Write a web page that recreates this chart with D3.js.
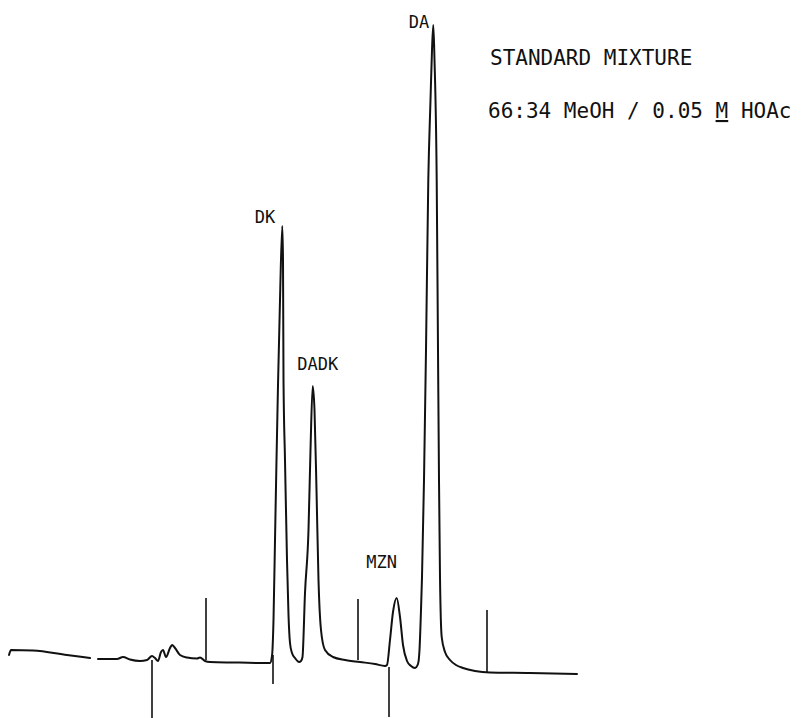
<!DOCTYPE html>
<html>
<head>
<meta charset="utf-8">
<script src="https://cdn.jsdelivr.net/npm/d3@7"></script>
<style>
  html, body { margin: 0; padding: 0; background: #fff; }
  svg { display: block; }
</style>
</head>
<body>
<svg></svg>
<script>
// chromatogram trace (time in chart divisions, detector response)
var traceTime = [
  0.1, 0.3, 2.5, 5.9, 8.2, 8.6,
  9.0, 10.9, 11.5, 12.2, 13.2, 13.9, 14.4, 14.7, 15.0, 15.3, 15.5, 15.8, 16.2, 16.4, 16.7, 17.2, 17.9, 18.9, 19.2, 19.7, 20.2, 22.5, 26.0,
  26.2, 26.4, 26.55, 26.7, 26.85, 27.0, 27.2, 27.43, 27.5, 27.55, 27.7, 27.9, 28.05, 28.2, 28.4, 28.7, 29.1, 29.3,
  29.45, 29.7, 30.05, 30.25, 30.47, 30.65, 30.85, 31.05, 31.3, 31.7, 32.5, 33.7, 35.2, 36.7, 37.7,
  37.9, 38.2, 38.5, 38.87, 39.2, 39.5, 39.9, 40.3, 40.7, 41.0,
  41.15, 41.3, 41.4, 41.6, 41.8, 42.03, 42.25, 42.4, 42.53, 42.65, 42.87, 43.0, 43.1, 43.2, 43.37, 43.7, 44.2, 44.8, 45.5, 46.7, 48.2, 52.2, 56.9
]
var traceSignal = [
  3.8, 4.8, 4.7, 3.8, 3.2, null,
  3.0, 3.0, 3.4, 2.9, 2.6, 2.8, 3.6, 3.2, 2.6, 4.4, 4.8, 3.4, 5.2, 5.8, 5.2, 3.8, 3.3, 3.1, 3.3, 2.6, 2.4, 2.3, 2.2,
  2.2, 3.6, 10.8, 26.8, 42.8, 57.8, 74.8, 89.6, 82.8, 58.8, 42.8, 22.8, 11.8, 6.2, 4.2, 3.2, 2.4, 2.6,
  3.4, 16.2, 28.8, 44.8, 57.6, 52.8, 36.8, 18.8, 8.8, 4.8, 3.4, 2.8, 2.4, 2.0, 1.6,
  1.8, 6.8, 12.4, 15.2, 11.4, 5.8, 2.6, 1.6, 1.2, 2.0,
  4.8, 12.8, 19.4, 38.8, 64.8, 98.8, 114.8, 124.8, 129.8, 122.8, 98.8, 64.8, 38.8, 19.4, 7.4, 4.4, 2.8, 1.8, 1.2, 0.6, 0.3, 0.2, 0
]

// integrator event marks: time, top and bottom of the stroke
var markTime = [14.4, 19.8, 26.5, 35.0, 38.1, 47.9]
var markTop = [2.8, 15.2, 3.8, 15.0, 1.4, 12.8]
var markBottom = [-8.8, 2.8, -2.0, 2.8, -8.6, 0.2]

// peak labels
var peakNames = ["DK", "DADK", "MZN", "DA"]
var peakTime = [27.43, 30.47, 38.87, 42.53]
var peakHeight = [89.6, 57.6, 15.2, 129.8]

var titleLines = ["STANDARD MIXTURE", "66:34 MeOH / 0.05 ", "M", " HOAc"]

var svgWidth = 803,
    svgHeight = 718

var svg = d3.select("svg")
    .attr("width", svgWidth)
    .attr("height", svgHeight)

var x = d3.scaleLinear().domain([0, 57]).range([8, 578])
var y = d3.scaleLinear().domain([0, 130]).range([674, 24])

var trace = traceTime.map((t, i) => ({ t: t, s: traceSignal[i] }))

var line = d3.line()
    .defined((d) => d.s !== null)
    .x((d) => x(d.t))
    .y((d) => y(d.s))
    .curve(d3.curveMonotoneX)

svg.append("path")
    .datum(trace)
    .attr("d", line)
    .attr("fill", "none")
    .attr("stroke", "#111")
    .attr("stroke-width", 2)
    .attr("stroke-linejoin", "round")
    .attr("stroke-linecap", "round")

svg.selectAll("line.mark")
    .data(markTime)
    .enter()
    .append("line")
    .attr("class", "mark")
    .attr("x1", (d) => x(d))
    .attr("x2", (d) => x(d))
    .attr("y1", (d, i) => y(markTop[i]))
    .attr("y2", (d, i) => y(markBottom[i]))
    .attr("stroke", "#111")
    .attr("stroke-width", 1.6)

// label offsets from the peak tip, in pixels
var labelOffset = {
    "DK": { dx: -7, dy: -3, anchor: "end" },
    "DADK": { dx: 5, dy: -16, anchor: "middle" },
    "MZN": { dx: -15, dy: -30, anchor: "middle" },
    "DA": { dx: -4, dy: 3, anchor: "end" }
}

svg.selectAll("text.peak")
    .data(peakNames)
    .enter()
    .append("text")
    .attr("class", "peak")
    .attr("x", (d, i) => x(peakTime[i]) + labelOffset[d].dx)
    .attr("y", (d, i) => y(peakHeight[i]) + labelOffset[d].dy)
    .attr("text-anchor", (d) => labelOffset[d].anchor)
    .attr("font-family", "DejaVu Sans Mono, monospace")
    .attr("font-size", 17)
    .attr("fill", "#111")
    .text((d) => d)

var title = svg.append("g")
    .attr("font-family", "DejaVu Sans Mono, monospace")
    .attr("font-size", 21)
    .attr("fill", "#111")

title.append("text")
    .attr("x", 490)
    .attr("y", 65)
    .text(titleLines[0])

var sub = title.append("text")
    .attr("x", 488)
    .attr("y", 118)
    .attr("xml:space", "preserve")
    .style("white-space", "pre")

sub.append("tspan").text(titleLines[1])
sub.append("tspan").attr("text-decoration", "underline").text(titleLines[2])
sub.append("tspan").text(titleLines[3])
</script>
</body>
</html>
